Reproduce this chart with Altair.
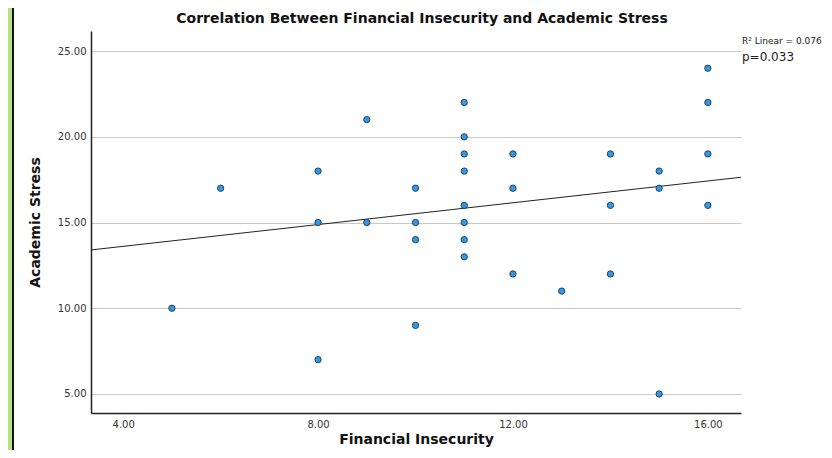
import altair as alt
import pandas as pd

# Scatter values
fin_insecurity = [5, 6, 8, 8, 8, 9, 9, 10, 10, 10, 10,
                  11, 11, 11, 11, 11, 11, 11, 11,
                  12, 12, 12, 13, 14, 14, 14, 15, 15, 15, 16, 16, 16, 16]
acad_stress = [10, 17, 18, 15, 7, 21, 15, 17, 15, 14, 9,
               22, 20, 19, 18, 16, 15, 14, 13,
               19, 17, 12, 11, 19, 16, 12, 18, 17, 5, 24, 22, 19, 16]

# Fit line
fit_x = [3.34, 16.68]
fit_y = [13.40, 17.64]

x_ticks = [4, 8, 12, 16]
y_ticks = [5, 10, 15, 20, 25]
x_domain = [3.34, 16.68]
y_domain = [3.89, 26.17]

title_text = ["Correlation Between Financial Insecurity and Academic Stress"]

pts = pd.DataFrame({"x": fin_insecurity, "y": acad_stress})
fit = pd.DataFrame({"x": fit_x, "y": fit_y})

W, H = 650, 382

xs = alt.Scale(domain=x_domain, nice=False, zero=False)
ys = alt.Scale(domain=y_domain, nice=False, zero=False)

x_axis = alt.Axis(values=x_ticks, format=".2f", grid=False, ticks=False,
                  labelPadding=6, labelFontSize=10, labelColor="#333333",
                  labelFont="DejaVu Sans", title="Financial Insecurity",
                  titleFont="DejaVu Sans", titleFontSize=14, titleFontWeight="bold",
                  titleColor="#111111", titlePadding=3, domainColor="#222222",
                  domainWidth=1.5)
y_axis = alt.Axis(values=y_ticks, format=".2f", grid=True, ticks=False,
                  gridColor="#c8c8c8", gridWidth=1,
                  labelPadding=5, labelFontSize=10, labelColor="#333333",
                  labelFont="DejaVu Sans", title="Academic Stress",
                  titleFont="DejaVu Sans", titleFontSize=14, titleFontWeight="bold",
                  titleColor="#111111", titlePadding=15, domainColor="#222222",
                  domainWidth=1.5)

points = alt.Chart(pts).mark_circle(
    size=40, color="#3399e6", opacity=1, stroke="#1f3550", strokeWidth=0.9
).encode(
    x=alt.X("x:Q", scale=xs, axis=x_axis),
    y=alt.Y("y:Q", scale=ys, axis=y_axis),
)

line = alt.Chart(fit).mark_line(color="#222222", strokeWidth=1).encode(
    x=alt.X("x:Q", scale=xs),
    y=alt.Y("y:Q", scale=ys),
)

title = alt.Chart(pd.DataFrame({"t": title_text})).mark_text(
    align="center", baseline="alphabetic", fontSize=14, fontWeight="bold",
    font="DejaVu Sans", color="#111111"
).encode(x=alt.value(W / 2 + 6), y=alt.value(-8), text="t:N")

ann1 = alt.Chart(pd.DataFrame({"t": ["R² Linear = 0.076"]})).mark_text(
    align="left", baseline="alphabetic", fontSize=9, font="DejaVu Sans", color="#222222"
).encode(x=alt.value(W + 1), y=alt.value(13), text="t:N")

ann2 = alt.Chart(pd.DataFrame({"t": ["p=0.033"]})).mark_text(
    align="left", baseline="alphabetic", fontSize=12, font="DejaVu Sans", color="#222222"
).encode(x=alt.value(W + 1), y=alt.value(30), text="t:N")

# decorative window frame on the left edge
frame_green = alt.Chart(pd.DataFrame({"a": [0]})).mark_rect(color="#b6df86").encode(
    x=alt.value(-83), x2=alt.value(-79), y=alt.value(-23), y2=alt.value(H + 40)
)
frame_black = alt.Chart(pd.DataFrame({"a": [0]})).mark_rect(color="#111111").encode(
    x=alt.value(-79), x2=alt.value(-77), y=alt.value(-23), y2=alt.value(H + 40)
)

chart = alt.layer(frame_green, frame_black, line, points, title, ann1, ann2).properties(
    width=W, height=H,
    autosize=alt.AutoSizeParams(type="none"),
    padding={"left": 83, "top": 23, "right": 83, "bottom": 37},
    background="white",
).configure_view(stroke=None)

chart.save("out.html", embed_options={"renderer": "svg", "actions": False})
